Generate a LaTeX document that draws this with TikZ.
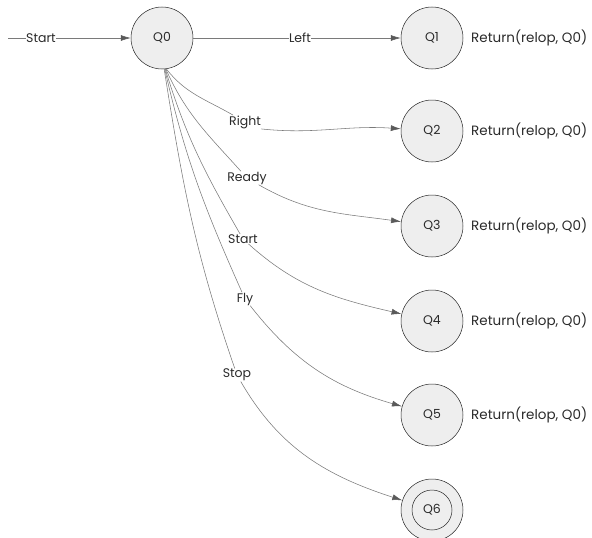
\documentclass[tikz,border=0pt]{standalone}
\usepackage{fontspec}
\setmainfont{Poppins}
\usetikzlibrary{arrows.meta}
\definecolor{edgec}{HTML}{7A7A7A}
\definecolor{tipc}{HTML}{5A5A5A}
\definecolor{statefill}{HTML}{EEEEEE}
\definecolor{txtc}{HTML}{2A2A2A}
\tikzset{
  fnt/.style={font=\fontsize{12.5}{14}\selectfont},
  state/.style={circle,draw=black!85,fill=statefill,minimum size=62pt,inner sep=0pt,fnt,text=txtc,line width=0.5pt},
  trans/.style={draw=edgec,line width=0.55pt,-{Latex[length=10pt,width=6pt,color=tipc]}},
  plain/.style={draw=edgec,line width=0.55pt},
  lbl/.style={fill=white,inner sep=0.5pt,outer sep=0pt,fnt,text=txtc},
  ret/.style={anchor=west,font=\fontsize{13.5}{15}\selectfont,text=txtc,inner sep=0pt}
}
\begin{document}
\begin{tikzpicture}[x=1pt,y=-1pt]
\useasboundingbox (0,0) rectangle (592,538);
\coordinate (in) at (8,38);
\node[state] (Q0) at (162,38) {Q0};
\node[state] (Q1) at (432,38) {Q1};
\node[state] (Q2) at (432,131) {Q2};
\node[state] (Q3) at (432,226) {Q3};
\node[state] (Q4) at (432,321) {Q4};
\node[state] (Q5) at (432,415) {Q5};
\node[state] (Q6) at (432,510) {};
\node[circle,draw=black!85,line width=0.5pt,minimum size=40pt,inner sep=0pt,fnt,text=txtc] (Q6i) at (Q6) {Q6};

\node[lbl] (lStart) at (41,38) {Start};
\node[lbl] (lLeft) at (300,38) {Left};
\node[lbl] (lR) at (245,122) {Right};
\node[lbl] (lRd) at (247,178) {Ready};
\node[lbl] (lS) at (243,239) {Start};
\node[lbl] (lF) at (245,299) {Fly};
\node[lbl] (lSt) at (237,375) {Stop};

\draw[plain] (in) -- (lStart);
\draw[trans] (lStart) -- (Q0);
\draw[plain] (Q0) -- (lLeft);
\draw[trans] (lLeft) -- (Q1);

\draw[plain] (Q0.-82) to[out=-52,in=150] (lR);
\draw[trans] (lR.south east) to[out=-6,in=176] (Q2);
\draw[plain] (Q0.-83) to[out=-66,in=132] (lRd);
\draw[trans] (lRd) to[out=-30,in=172] (Q3);
\draw[plain] (Q0.-84) to[out=-73,in=120] (lS);
\draw[trans] (lS) to[out=-42,in=167] (Q4);
\draw[plain] (Q0.-85) to[out=-77,in=114] (lF);
\draw[trans] (lF) to[out=-52,in=164] (Q5);
\draw[plain] (Q0.-86) to[out=-81,in=109] (lSt);
\draw[trans] (lSt) to[out=-60,in=162] (Q6);

\node[ret] (r1) at (471,38) {Return(relop, Q0)};
\node[ret] (r2) at (471,131) {Return(relop, Q0)};
\node[ret] (r3) at (471,226) {Return(relop, Q0)};
\node[ret] (r4) at (471,321) {Return(relop, Q0)};
\node[ret] (r5) at (471,415) {Return(relop, Q0)};
\end{tikzpicture}
\end{document}
